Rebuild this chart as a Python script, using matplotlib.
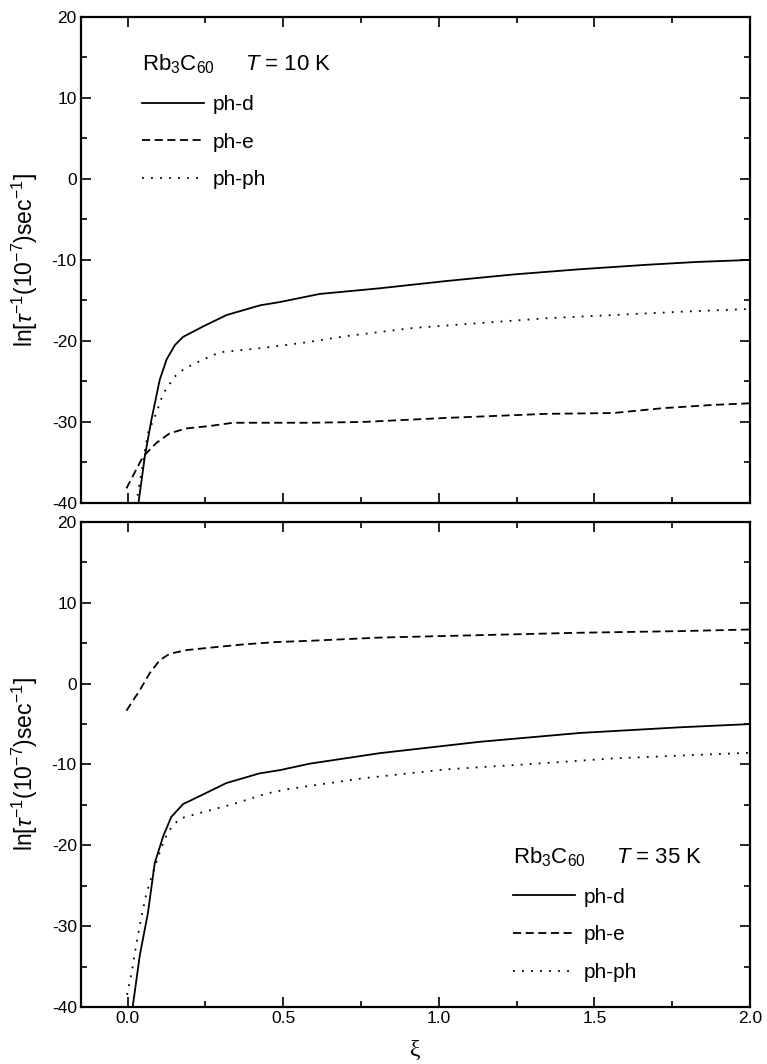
import matplotlib
matplotlib.use("Agg")
import matplotlib.pyplot as plt

plt.rcParams['font.family'] = ['Liberation Sans', 'DejaVu Sans']
plt.rcParams['mathtext.fontset'] = 'custom'
plt.rcParams['mathtext.rm'] = 'Liberation Sans'
plt.rcParams['mathtext.it'] = 'Liberation Sans:italic'
plt.rcParams['axes.unicode_minus'] = False

# T = 10 K
x_d10 = [0.033, 0.055, 0.076, 0.103, 0.125, 0.152, 0.178, 0.243, 0.318, 0.426, 0.489, 0.617, 0.81, 1.025, 1.238, 1.453, 1.668, 1.829, 2.0]
d10 = [-40.5, -34.3, -29.8, -24.8, -22.3, -20.5, -19.5, -18.2, -16.8, -15.6, -15.2, -14.2, -13.5, -12.6, -11.8, -11.15, -10.6, -10.25, -10.0]
x_e10 = [-0.004, 0.049, 0.092, 0.135, 0.189, 0.264, 0.339, 0.585, 0.757, 1.025, 1.346, 1.56, 1.72, 1.88, 2.0]
e10 = [-38.2, -34.3, -32.6, -31.4, -30.8, -30.5, -30.1, -30.1, -30.0, -29.5, -29.0, -28.9, -28.3, -27.9, -27.7]
x_pp10 = [0.028, 0.033, 0.065, 0.092, 0.114, 0.151, 0.183, 0.242, 0.296, 0.424, 0.489, 0.569, 0.703, 0.917, 1.13, 1.346, 1.56, 1.775, 2.0]
pp10 = [-40.2, -38.8, -31.4, -28.9, -26.5, -24.4, -23.4, -22.3, -21.4, -20.9, -20.6, -20.2, -19.4, -18.4, -17.8, -17.2, -16.8, -16.4, -16.05]

# T = 35 K
x_d35 = [0.015, 0.039, 0.065, 0.087, 0.114, 0.14, 0.178, 0.232, 0.317, 0.424, 0.489, 0.585, 0.81, 1.13, 1.453, 1.775, 2.0]
d35 = [-40.3, -33.6, -28.4, -22.2, -18.9, -16.5, -14.9, -13.9, -12.3, -11.1, -10.7, -9.9, -8.6, -7.2, -6.1, -5.4, -5.0]
x_e35 = [-0.004, 0.039, 0.071, 0.103, 0.135, 0.189, 0.264, 0.371, 0.478, 0.585, 0.81, 1.13, 1.453, 1.775, 2.0]
e35 = [-3.35, -0.8, 1.3, 2.9, 3.7, 4.15, 4.45, 4.85, 5.15, 5.3, 5.7, 6.0, 6.3, 6.5, 6.7]
x_pp35 = [-0.002, 0.012, 0.028, 0.044, 0.06, 0.076, 0.097, 0.119, 0.14, 0.167, 0.232, 0.339, 0.446, 0.521, 0.757, 1.025, 1.293, 1.56, 1.775, 2.0]
pp35 = [-38.5, -35.9, -32.2, -28.9, -26.0, -24.0, -21.5, -19.2, -17.8, -16.7, -16.0, -14.9, -13.6, -13.0, -11.7, -10.6, -9.95, -9.25, -8.9, -8.55]

labels = ['ph-d', 'ph-e', 'ph-ph']
ylab = r'ln[$\tau^{-1}(10^{-7})$sec$^{-1}$]'

fig = plt.figure(figsize=(7.67, 10.64), dpi=100)
ax1 = fig.add_axes([0.1056, 0.5273, 0.8722, 0.4568])
ax2 = fig.add_axes([0.1056, 0.0536, 0.8722, 0.4558])

dash = (0, (4.5, 2.5))
dot = (0, (1, 4))


def style(ax):
    ax.set_xlim(-0.15, 2.0)
    ax.set_ylim(-40, 20)
    ax.set_xticks([0.0, 0.5, 1.0, 1.5, 2.0])
    ax.set_xticks([0.25, 0.75, 1.25, 1.75], minor=True)
    ax.set_yticks([-40, -30, -20, -10, 0, 10, 20])
    ax.set_yticks([-35, -25, -15, -5, 5, 15], minor=True)
    ax.tick_params(which='both', direction='in', top=True, right=True, width=1.2, labelsize=12.5, pad=3)
    ax.tick_params(which='major', length=7)
    ax.tick_params(which='minor', length=4.5)
    for s in ax.spines.values():
        s.set_linewidth(1.6)
    ax.set_ylabel(ylab, fontsize=16.5)
    ax.yaxis.set_label_coords(-0.062, 0.5)


def legend(ax, handles, title, **kw):
    ax.legend(handles, labels, title=title, frameon=False, fontsize=15, title_fontsize=16,
              handlelength=3.0, handletextpad=0.4, labelspacing=0.9, borderpad=0,
              alignment='left', **kw)


l1, = ax1.plot(x_d10, d10, color='black', lw=1.3, ls='-')
l2, = ax1.plot(x_e10, e10, color='black', lw=1.3, ls=dash)
l3, = ax1.plot(x_pp10, pp10, color='black', lw=1.3, ls=dot)
style(ax1)
ax1.tick_params(labelbottom=False)
legend(ax1, [l1, l2, l3], r'Rb$_3$C$_{60}$     $T$ = 10 K', loc='upper left', bbox_to_anchor=(0.075, 0.948))

m1, = ax2.plot(x_d35, d35, color='black', lw=1.3, ls='-')
m2, = ax2.plot(x_e35, e35, color='black', lw=1.3, ls=dash)
m3, = ax2.plot(x_pp35, pp35, color='black', lw=1.3, ls=dot)
style(ax2)
ax2.set_xlabel('ξ', fontsize=17, family='Liberation Serif', labelpad=10)
legend(ax2, [m1, m2, m3], r'Rb$_3$C$_{60}$     $T$ = 35 K', loc='lower left', bbox_to_anchor=(0.63, 0.03))

plt.savefig('out.png', dpi=100)
